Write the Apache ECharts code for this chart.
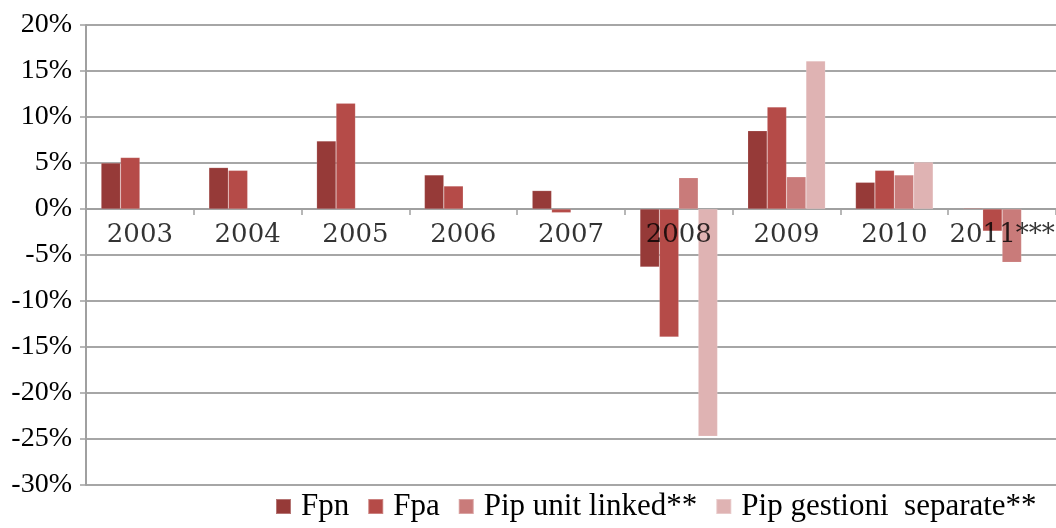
<!DOCTYPE html>
<html>
<head>
<meta charset="utf-8">
<script src="https://cdn.jsdelivr.net/npm/echarts@6/dist/echarts.min.js"></script>
<style>html,body{margin:0;padding:0;background:#fff}#c{width:1056px;height:528px}</style>
</head>
<body>
<div id="c"></div>
<script>
const categories = ['2003','2004','2005','2006','2007','2008','2009','2010','2011***'];
const fpn = [5.0, 4.5, 7.4, 3.7, 2.0, -6.3, 8.5, 2.9, 0.1];
const fpa = [5.6, 4.2, 11.5, 2.5, -0.4, -13.9, 11.1, 4.2, -2.4];
const pipUnitLinked = [null, null, null, null, null, 3.4, 3.5, 3.7, -5.8];
const pipGestioniSeparate = [null, null, null, null, null, -24.7, 16.1, 5.1, null];
const seriesNames = ['Fpn','Fpa','Pip unit linked**','Pip gestioni  separate**'];
const colors = ['#963a38','#b54b48','#c97b7a','#dfb3b3'];

const chart = echarts.init(document.getElementById('c'));
const mk = (name, data, i) => ({
  name, type: 'bar', data, barGap: '0%', barCategoryGap: '28%',
  itemStyle: { color: colors[i], borderColor: 'rgba(255,255,255,0.3)', borderWidth: 0.5 }
});
// category labels anchored on the zero line (drawn above the bars, as in the original)
const labelSeries = {
  type: 'scatter', name: 'labels', silent: true, z: 6,
  symbolSize: 0, legendHoverLink: false, tooltip: { show: false },
  data: categories.map(c => [c, 0]),
  label: {
    show: true, position: 'bottom', distance: 13,
    formatter: p => p.value[0],
    fontFamily: 'DejaVu Serif', fontSize: 26, fontWeight: 'normal', color: '#000',
    textBorderWidth: 0
  }
};
chart.setOption({
  animation: false,
  grid: { left: 86, right: -2, top: 25, bottom: 43 },
  legend: {
    left: 270, bottom: 1, itemWidth: 15, itemHeight: 15, itemGap: 18,
    icon: 'rect',
    textStyle: { fontFamily: 'Liberation Serif', fontSize: 31, color: '#000', padding: [0,0,0,5] },
    data: seriesNames
  },
  xAxis: {
    type: 'category', data: categories,
    axisLine: { onZero: true, lineStyle: { color: '#a0a0a0', width: 2 } },
    axisTick: { show: true, length: 6, interval: 0, lineStyle: { color: '#a0a0a0', width: 1.5 } },
    axisLabel: { show: false }
  },
  yAxis: {
    type: 'value', min: -30, max: 20, interval: 5,
    axisLine: { show: true, onZero: false, lineStyle: { color: '#a0a0a0', width: 2 } },
    axisTick: { show: true, length: 6, lineStyle: { color: '#a0a0a0', width: 1.5 } },
    splitLine: { lineStyle: { color: '#a6a6a6', width: 2 } },
    axisLabel: { formatter: '{value}%', margin: 14, fontFamily: 'Liberation Serif', fontSize: 28, color: '#000' }
  },
  series: [
    mk(seriesNames[0], fpn, 0),
    mk(seriesNames[1], fpa, 1),
    mk(seriesNames[2], pipUnitLinked, 2),
    mk(seriesNames[3], pipGestioniSeparate, 3),
    labelSeries
  ]
});
</script>
</body>
</html>
